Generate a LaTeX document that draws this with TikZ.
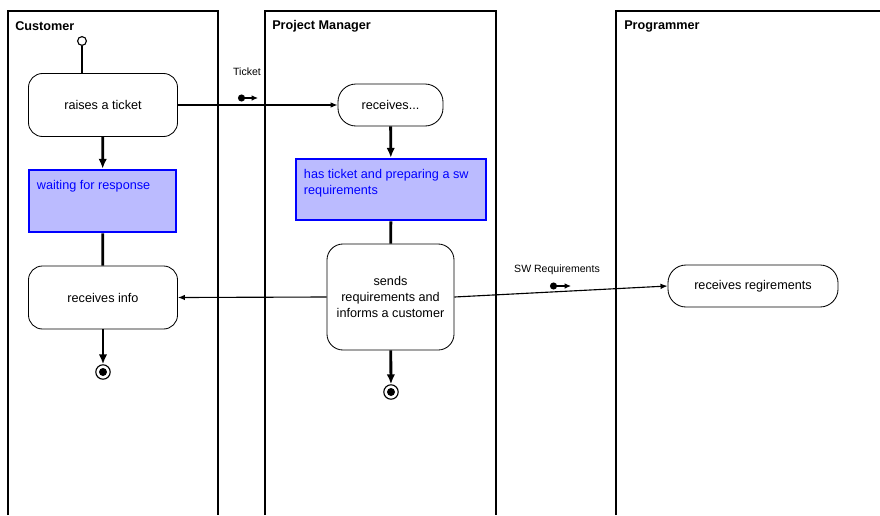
\documentclass[tikz,border=0pt]{standalone}
\usepackage{fontspec}
\setmainfont{Liberation Sans}
\usetikzlibrary{arrows.meta}
\definecolor{actfill}{HTML}{BBBBFF}
\definecolor{actblue}{HTML}{0000FF}
\tikzset{
  lane/.style={line width=2pt},
  lanetitle/.style={anchor=west, inner sep=0pt, font=\fontsize{9}{11}\selectfont\bfseries},
  action/.style={draw, rounded corners=0.35cm, line width=0.6pt, align=center, inner sep=0pt,
    font=\fontsize{9}{11.4}\selectfont},
  waitstate/.style={draw=actblue, fill=actfill, line width=1.8pt, text=actblue, inner sep=0.2cm,
    font=\fontsize{9}{11.4}\selectfont},
  flow/.style={line width=2pt, -{Latex[length=7pt,width=6pt]}},
  seg/.style={line width=2pt},
  msg/.style={line width=0.8pt, -{Latex[length=5pt,width=4pt]}},
  tag/.style={font=\fontsize{7.5}{9}\selectfont},
  objflow/.style={line width=0.8pt, {Circle[length=5pt]}-{Latex[length=4.5pt,width=4pt]}},
  startnode/.style={draw, circle, line width=0.8pt, minimum size=0.22cm, inner sep=0pt},
  endnode/.style={draw, circle, line width=0.8pt, minimum size=0.36cm, inner sep=0pt,
    path picture={\fill (path picture bounding box.center) circle (0.1cm);}}
}

\begin{document}
\begin{tikzpicture}[x=0.025cm, y=-0.025cm]
\useasboundingbox (0,0) rectangle (880,515);

% swimlanes
\draw[lane] (8,515) -- (8,11) -- (218,11) -- (218,515);
\draw[lane] (265,515) -- (265,11) -- (496,11) -- (496,515);
\draw[lane] (616,515) -- (616,11) -- (880,11);
\node[lanetitle] (custtitle) at (15,26) {Customer};
\node[lanetitle] (pmtitle) at (272,26) {Project Manager};
\node[lanetitle] (progtitle) at (624,26) {Programmer};

% customer
\node[startnode] (start) at (82,41) {};
\node[action, minimum width=3.725cm, minimum height=1.575cm] (raise) at (103,105) {raises a ticket};
\node[waitstate, inner ysep=0.25cm] (wait) at (102.5,201)
  {\parbox[t][1.05cm][t]{3.275cm}{\raggedright waiting for response}};
\node[action, minimum width=3.725cm, minimum height=1.575cm] (info) at (103,297.5) {receives info};
\node[endnode] (custend) at (103,372) {};

% project manager
\node[action, rounded corners=0.45cm, minimum width=2.625cm, minimum height=1.05cm] (recv) at (390.5,105) {receives...};
\node[waitstate, inner ysep=0.25cm] (prep) at (391,189.5)
  {\parbox[t][1.025cm][t]{4.35cm}{\raggedright has ticket and preparing a sw requirements}};
\node[action, rounded corners=0.4cm, minimum width=3.175cm, minimum height=2.65cm] (sends) at (390.5,297)
  {sends\\requirements and\\informs a customer};
\node[endnode] (pmend) at (391,392) {};

% programmer
\node[action, rounded corners=0.45cm, minimum width=4.25cm, minimum height=1.05cm] (reqs) at (753,286) {receives regirements};

% control flow
\draw[seg] (start) -- (start |- raise.north);
\draw[flow] (raise) -- (wait);
\draw[seg] (wait) -- (info);
\draw[flow] (info) -- (custend);
\draw[flow] (recv) -- (prep);
\draw[seg] (prep) -- (sends);
\draw[flow] (sends) -- (pmend);

% messages
\draw[msg] (raise.east) -- (recv.west);
\draw[msg] (sends.west) -- (info.east);
\draw[msg] (sends.east) -- (reqs.west);

\node[tag] (ticket) at (247,72) {Ticket};
\coordinate (tka) at (238,98);
\coordinate (tkb) at (258,98);
\draw[objflow] (tka) -- (tkb);
\node[tag] (swreq) at (557,270) {SW Requirements};
\coordinate (swa) at (550,286);
\coordinate (swb) at (571,286);
\draw[objflow] (swa) -- (swb);
\end{tikzpicture}
\end{document}
